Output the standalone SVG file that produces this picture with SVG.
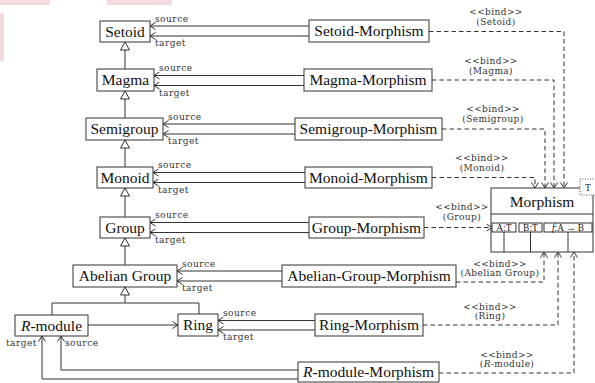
<svg xmlns="http://www.w3.org/2000/svg" width="595" height="383" viewBox="0 0 595 383">
<defs>
<style>
.box{fill:#fff;stroke:#333;stroke-width:1}
.ln{fill:none;stroke:#333;stroke-width:1}
.dl{fill:none;stroke:#333;stroke-width:1;stroke-dasharray:4.5 3}
.t{font-family:"Liberation Serif","Times New Roman",serif;font-size:15.5px;fill:#111;text-anchor:middle}
.s{font-family:"DejaVu Serif","Liberation Serif",serif;font-size:9px;fill:#333;letter-spacing:0.5px}
.b{font-family:"DejaVu Serif","Liberation Serif",serif;font-size:9px;fill:#333;letter-spacing:0.4px;text-anchor:middle}
.p{font-family:"Liberation Serif","Times New Roman",serif;font-size:9.5px;fill:#222;text-anchor:middle}
.wm{fill:#f2dadd}
</style>
<marker id="op" viewBox="0 0 7 8" refX="6.5" refY="4" markerWidth="7" markerHeight="8" markerUnits="userSpaceOnUse" orient="auto">
<path d="M1,0.5 L6.5,4 L1,7.5" fill="none" stroke="#333" stroke-width="1" stroke-dasharray="none"/>
</marker>
<marker id="gen" viewBox="0 0 9 10" refX="8.5" refY="5" markerWidth="9" markerHeight="10" markerUnits="userSpaceOnUse" orient="auto">
<path d="M0.5,0.5 L8.5,5 L0.5,9.5 Z" fill="#fff" stroke="#333" stroke-width="1"/>
</marker>
</defs>

<g id="watermark">
<rect class="wm" x="0" y="0" width="50" height="5"/>
<rect class="wm" x="107" y="0" width="65" height="5"/>
<rect class="wm" x="0" y="13" width="4" height="48"/>
</g>

<g id="connectors">
<path class="ln" d="M125,69 V42" marker-end="url(#gen)"/>
<path class="ln" d="M125,118 V91" marker-end="url(#gen)"/>
<path class="ln" d="M125,167 V140" marker-end="url(#gen)"/>
<path class="ln" d="M125,217 V188" marker-end="url(#gen)"/>
<path class="ln" d="M125,265 V238" marker-end="url(#gen)"/>
<path class="ln" d="M125,303 V287" marker-end="url(#gen)"/>
<path class="ln" d="M52,315 V303 H199 V314"/>
<path class="ln" d="M309,26 H150" marker-end="url(#op)"/>
<path class="ln" d="M309,36 H150" marker-end="url(#op)"/>
<path class="ln" d="M304,75.5 H154" marker-end="url(#op)"/>
<path class="ln" d="M304,85.5 H154" marker-end="url(#op)"/>
<path class="ln" d="M295,124 H163" marker-end="url(#op)"/>
<path class="ln" d="M295,134 H163" marker-end="url(#op)"/>
<path class="ln" d="M305,172.5 H153" marker-end="url(#op)"/>
<path class="ln" d="M305,182.5 H153" marker-end="url(#op)"/>
<path class="ln" d="M309,222.5 H150" marker-end="url(#op)"/>
<path class="ln" d="M309,232.5 H150" marker-end="url(#op)"/>
<path class="ln" d="M282,271 H177" marker-end="url(#op)"/>
<path class="ln" d="M282,281 H177" marker-end="url(#op)"/>
<path class="ln" d="M315,320.5 H218" marker-end="url(#op)"/>
<path class="ln" d="M315,330 H218" marker-end="url(#op)"/>
<path class="ln" d="M88,325 H178" marker-end="url(#op)"/>
<path class="ln" d="M298,370 H61 V336" marker-end="url(#op)"/>
<path class="ln" d="M298,379 H42 V336" marker-end="url(#op)"/>
<path class="dl" d="M429,31.5 H564 V188" marker-end="url(#op)"/>
<path class="dl" d="M432,80 H554 V188" marker-end="url(#op)"/>
<path class="dl" d="M442,129 H545 V188" marker-end="url(#op)"/>
<path class="dl" d="M432,177.5 H535 V188" marker-end="url(#op)"/>
<path class="dl" d="M424,227.5 H492" marker-end="url(#op)"/>
<path class="dl" d="M456,282 H544 V252" marker-end="url(#op)"/>
<path class="dl" d="M423,325 H558 V252" marker-end="url(#op)"/>
<path class="dl" d="M439,373 H574 V252" marker-end="url(#op)"/>
<text class="s" x="155" y="21.5">source</text>
<text class="s" x="155" y="46">target</text>
<text class="s" x="159" y="71">source</text>
<text class="s" x="159" y="95.5">target</text>
<text class="s" x="168" y="119.5">source</text>
<text class="s" x="168" y="144">target</text>
<text class="s" x="158" y="168">source</text>
<text class="s" x="158" y="192.5">target</text>
<text class="s" x="155" y="218">source</text>
<text class="s" x="155" y="242.5">target</text>
<text class="s" x="182" y="266.5">source</text>
<text class="s" x="182" y="291">target</text>
<text class="s" x="223" y="316">source</text>
<text class="s" x="223" y="340">target</text>
<text class="s" x="65" y="346">source</text>
<text class="s" x="6" y="346">target</text>
<text class="b" x="496" y="15">&lt;&lt;bind&gt;&gt;</text>
<text class="b" x="496" y="25">(Setoid)</text>
<text class="b" x="491" y="64">&lt;&lt;bind&gt;&gt;</text>
<text class="b" x="491" y="74">(Magma)</text>
<text class="b" x="493" y="112">&lt;&lt;bind&gt;&gt;</text>
<text class="b" x="493" y="121.5">(Semigroup)</text>
<text class="b" x="482" y="161">&lt;&lt;bind&gt;&gt;</text>
<text class="b" x="482" y="171">(Monoid)</text>
<text class="b" x="462" y="210">&lt;&lt;bind&gt;&gt;</text>
<text class="b" x="462" y="220">(Group)</text>
<text class="b" x="500" y="267">&lt;&lt;bind&gt;&gt;</text>
<text class="b" x="500" y="275.5">(Abelian Group)</text>
<text class="b" x="490" y="310">&lt;&lt;bind&gt;&gt;</text>
<text class="b" x="490" y="319">(Ring)</text>
<text class="b" x="507" y="358">&lt;&lt;bind&gt;&gt;</text>
<text class="b" x="507" y="366.5">(<tspan font-style="italic">R</tspan>-module)</text>
</g>

<g id="setoid"><rect class="box" x="100" y="21" width="50" height="21"/><text class="t" x="125" y="36.5">Setoid</text></g>
<g id="magma"><rect class="box" x="97" y="69" width="57" height="22"/><text class="t" x="125.5" y="85">Magma</text></g>
<g id="semigroup"><rect class="box" x="86" y="118" width="77" height="22"/><text class="t" x="124.5" y="134">Semigroup</text></g>
<g id="monoid"><rect class="box" x="97" y="167" width="56" height="21"/><text class="t" x="125" y="182.5">Monoid</text></g>
<g id="group"><rect class="box" x="100" y="217" width="50" height="21"/><text class="t" x="125" y="232.5">Group</text></g>
<g id="abelian-group"><rect class="box" x="73" y="265" width="104" height="22"/><text class="t" x="125" y="281">Abelian Group</text></g>
<g id="r-module"><rect class="box" x="15" y="315" width="73" height="21"/><text class="t" x="51.5" y="330.5"><tspan font-style="italic">R</tspan>-module</text></g>
<g id="ring"><rect class="box" x="178" y="314" width="40" height="22"/><text class="t" x="198" y="330">Ring</text></g>

<g id="setoid-morphism"><rect class="box" x="309" y="20" width="120" height="22"/><text class="t" x="369" y="36">Setoid-Morphism</text></g>
<g id="magma-morphism"><rect class="box" x="304" y="69" width="128" height="22"/><text class="t" x="368" y="85">Magma-Morphism</text></g>
<g id="semigroup-morphism"><rect class="box" x="295" y="118" width="147" height="22"/><text class="t" x="368.5" y="134">Semigroup-Morphism</text></g>
<g id="monoid-morphism"><rect class="box" x="305" y="167" width="127" height="21"/><text class="t" x="368.5" y="182.5">Monoid-Morphism</text></g>
<g id="group-morphism"><rect class="box" x="309" y="217" width="115" height="21"/><text class="t" x="366.5" y="232.5">Group-Morphism</text></g>
<g id="abelian-group-morphism"><rect class="box" x="282" y="265" width="174" height="22"/><text class="t" x="369" y="281">Abelian-Group-Morphism</text></g>
<g id="ring-morphism"><rect class="box" x="315" y="314" width="108" height="22"/><text class="t" x="369" y="330">Ring-Morphism</text></g>
<g id="r-module-morphism"><rect class="box" x="298" y="362" width="141" height="20"/><text class="t" x="368.5" y="377"><tspan font-style="italic">R</tspan>-module-Morphism</text></g>

<g id="morphism">
<rect class="box" x="491" y="188" width="102" height="64"/>
<line class="ln" x1="491" y1="214" x2="593" y2="214"/>
<text class="t" x="542" y="207">Morphism</text>
<rect class="box" x="492" y="223" width="24" height="9"/>
<text class="p" x="504" y="230.5">A:T</text>
<rect class="box" x="519" y="223" width="23" height="9"/>
<text class="p" x="530.5" y="230.5">B:T</text>
<rect class="box" x="544" y="223" width="48" height="9"/>
<text class="p" x="568" y="230.5"><tspan font-style="italic">f</tspan>:A → B</text>
<line class="ln" x1="504" y1="232" x2="504" y2="252"/>
<line class="ln" x1="530.5" y1="232" x2="530.5" y2="252"/>
<line class="ln" x1="568" y1="232" x2="568" y2="252"/>
<rect x="580" y="179" width="18" height="16" fill="#fff" stroke="#555" stroke-width="1" stroke-dasharray="1 1.5"/>
<text class="p" x="588" y="190.5">T</text>
</g>
</svg>
